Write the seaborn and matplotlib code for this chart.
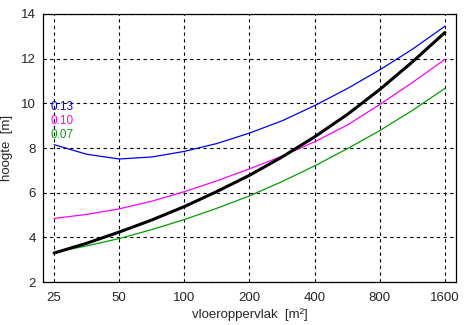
import numpy as np
import pandas as pd
import matplotlib
matplotlib.use('Agg')
import matplotlib.pyplot as plt
import seaborn as sns

# values
oppervlak = [25, 35.4, 50, 70.7, 100, 141, 200, 283, 400, 566, 800, 1131, 1600]
hoogte_013 = [8.15, 7.72, 7.51, 7.60, 7.85, 8.20, 8.67, 9.22, 9.90, 10.66, 11.50, 12.42, 13.45]
hoogte_010 = [4.85, 5.03, 5.28, 5.62, 6.05, 6.53, 7.07, 7.64, 8.28, 9.03, 9.95, 10.93, 11.97]
hoogte_007 = [3.33, 3.62, 3.95, 4.35, 4.80, 5.30, 5.86, 6.50, 7.20, 7.97, 8.78, 9.68, 10.67]
hoogte_zwart = [3.30, 3.74, 4.24, 4.78, 5.38, 6.05, 6.78, 7.60, 8.50, 9.50, 10.62, 11.85, 13.17]

xticks = [25, 50, 100, 200, 400, 800, 1600]
yticks = [2, 4, 6, 8, 10, 12, 14]
labels = ['0.13', '0.10', '0.07']
label_y = [9.84, 9.2, 8.6]

kleuren = ['#0000ff', '#ff00ff', '#00a000']

sns.set_style('white')
plt.rcParams['font.family'] = ['Liberation Sans', 'DejaVu Sans']

fig = plt.figure(figsize=(4.72, 3.25), dpi=100)
ax = fig.add_axes([0.091, 0.132, 0.875, 0.825])

df = pd.DataFrame({'x': oppervlak, '0.13': hoogte_013, '0.10': hoogte_010,
                   '0.07': hoogte_007, 'zwart': hoogte_zwart})

for kol, kleur in zip(['0.13', '0.10', '0.07'], kleuren):
    sns.lineplot(data=df, x='x', y=kol, color=kleur, linewidth=0.9, ax=ax)
sns.lineplot(data=df, x='x', y='zwart', color='black', linewidth=2.2, ax=ax)

for tekst, yy, kleur in zip(labels, label_y, kleuren):
    ax.text(24.0, yy, tekst, color=kleur, fontsize=8.5, va='center', ha='left')

ax.set_xscale('log', base=2)
ax.set_xlim(22.2, 1800)
ax.set_ylim(2, 14)
ax.set_xticks(xticks)
ax.set_xticklabels([str(t) for t in xticks])
ax.minorticks_off()
ax.set_yticks(yticks)
ax.tick_params(labelsize=9.5, direction='in', length=3, color='black')
ax.tick_params(axis='x', pad=7)
ax.tick_params(axis='y', pad=5)
ax.grid(True, color='black', linestyle=(0, (3, 3)), linewidth=0.8)
for s in ax.spines.values():
    s.set_color('black')
    s.set_linewidth(0.9)

ax.set_xlabel('vloeroppervlak  [m²]', fontsize=9.5, labelpad=3)
ax.set_ylabel('hoogte  [m]', fontsize=9.5, labelpad=6)

fig.savefig('out.png', dpi=100, facecolor='white')
